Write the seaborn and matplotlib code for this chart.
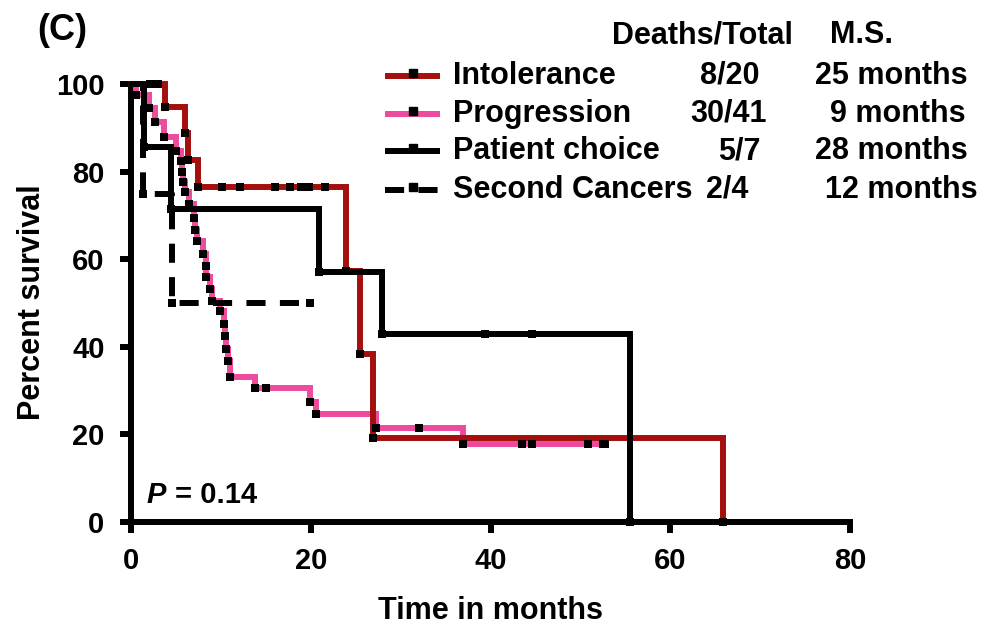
import numpy as np
import pandas as pd
import matplotlib
matplotlib.use("Agg")
import matplotlib.pyplot as plt
from matplotlib.lines import Line2D
import seaborn as sns

# ---------------- data ----------------
groups = ["Intolerance", "Progression", "Patient choice", "Second Cancers"]
deaths_total = ["8/20", "30/41", "5/7", "2/4"]
median_surv = ["25 months", "9 months", "28 months", "12 months"]

intol_event_t = [3.8, 6.0, 6.3, 7.4, 23.9, 25.5, 26.9, 65.9]
intol_event_s = [94.7, 88.7, 82.6, 76.5, 57.4, 38.3, 19.1, 0.0]
intol_cens_t = [2.1, 3.0, 10.1, 12.1, 16.0, 17.7, 18.9, 19.8, 21.6]

prog_event_t = [0.6, 2.0, 2.7, 3.7, 5.0, 5.6, 5.7, 5.8, 6.0, 6.5, 7.0, 7.1, 7.3,
                8.0, 8.3, 8.4, 8.8, 9.0, 9.9, 10.3, 10.5, 10.6, 10.8, 11.0,
                13.8, 19.9, 20.6, 27.3, 36.9]
prog_event_s = [97.5, 94.5, 91.3, 88.0, 84.8, 82.4, 79.9, 77.6, 75.3, 72.6, 69.4,
                66.6, 64.2, 61.1, 58.5, 56.0, 53.3, 50.5, 48.1, 45.1, 42.5, 39.6,
                36.8, 33.2, 30.5, 27.3, 24.7, 21.4, 17.8]
prog_cens_t = [15.0, 32.1, 43.5, 44.6, 50.8, 52.5, 52.7]

choice_event_t = [1.5, 4.5, 20.9, 27.9, 55.5]
choice_event_s = [85.7, 71.4, 57.1, 42.9, 0.0]
choice_cens_t = [39.4, 44.6]

second_event_t = [1.3, 4.6]
second_event_s = [75.0, 50.0]
second_cens_t = [19.9]

xticks = [0, 20, 40, 60, 80]
yticks = [0, 20, 40, 60, 80, 100]
p_label = "0.14"

# ---------------- style ----------------
sns.set_style("ticks")
plt.rcParams["font.family"] = ["Liberation Sans", "DejaVu Sans"]
plt.rcParams["font.weight"] = "bold"
for k in ["text.color", "axes.labelcolor", "xtick.color", "ytick.color",
          "axes.edgecolor", "xtick.labelcolor", "ytick.labelcolor"]:
    plt.rcParams[k] = "black"

colors = {"Intolerance": "#A5100E", "Progression": "#EE4B9E",
          "Patient choice": "#000000", "Second Cancers": "#000000"}
styles = {"Intolerance": "-", "Progression": "-",
          "Patient choice": "-", "Second Cancers": (0, (3.2, 2.4))}

W, H = 981, 628
fig = plt.figure(figsize=(W / 100, H / 100), dpi=100)
x0, x1, y0, y1 = 131, 850, 522, 84
ax = fig.add_axes([x0 / W, 1 - y0 / H, (x1 - x0) / W, (y0 - y1) / H])

def fx(px):
    return px / W

def fy(py):
    return 1 - py / H

def curve(ev_t, ev_s, cens_t):
    t = [0.0] + list(ev_t)
    s = [100.0] + list(ev_s)
    end = max([t[-1]] + list(cens_t))
    if end > t[-1]:
        t.append(end)
        s.append(s[-1])
    steps = pd.DataFrame({"t": t, "s": s})
    # survival at censor times from the step function
    cs = []
    for c in cens_t:
        idx = np.searchsorted(np.array(t), c, side="right") - 1
        cs.append(s[idx])
    marks = pd.DataFrame({"t": list(ev_t) + list(cens_t),
                          "s": list(ev_s) + cs})
    return steps, marks

data = {
    "Intolerance": curve(intol_event_t, intol_event_s, intol_cens_t),
    "Progression": curve(prog_event_t, prog_event_s, prog_cens_t),
    "Patient choice": curve(choice_event_t, choice_event_s, choice_cens_t),
    "Second Cancers": curve(second_event_t, second_event_s, second_cens_t),
}

LW = 4.3
order = ["Progression", "Intolerance", "Second Cancers", "Patient choice"]
for g in order:
    steps, marks = data[g]
    sns.lineplot(data=steps, x="t", y="s", ax=ax, color=colors[g],
                 linewidth=LW, linestyle=styles[g], drawstyle="steps-post",
                 sort=False, estimator=None, clip_on=False, zorder=3,
                 solid_joinstyle="miter", dash_capstyle="butt")
for g in order:
    steps, marks = data[g]
    sns.scatterplot(data=marks, x="t", y="s", ax=ax, color="black",
                    marker="s", s=30, linewidth=0, clip_on=False, zorder=4)

ax.set_xlim(0, 80)
ax.set_ylim(0, 100)
ax.set_xticks(xticks)
ax.set_yticks(yticks)
ax.set_xticklabels([str(v) for v in xticks])
ax.set_yticklabels([str(v) for v in yticks])
sns.despine(ax=ax)
for sp in ["left", "bottom"]:
    ax.spines[sp].set_linewidth(4.3)
    ax.spines[sp].set_color("black")
    ax.spines[sp].set_capstyle("projecting")
ax.tick_params(axis="both", length=8, width=4.3, labelsize=21, color="black",
               labelcolor="black")
ax.tick_params(axis="x", pad=10)
ax.tick_params(axis="y", pad=11)
for lab in ax.get_xticklabels() + ax.get_yticklabels():
    lab.set_fontweight("bold")

ax.set_xlabel("Time in months", fontsize=22, fontweight="bold", color="black")
ax.set_ylabel("Percent survival", fontsize=22, fontweight="bold", color="black")
ax.xaxis.label.set_va("center")
ax.xaxis.set_label_coords((491 - x0) / (x1 - x0), (y0 - 611) / (y0 - y1))
ax.yaxis.label.set_va("center")
ax.yaxis.set_label_coords((32 - x0) / (x1 - x0), (y0 - 302) / (y0 - y1))

# panel label
fig.text(fx(37), fy(30), "(C)", fontsize=26, fontweight="bold", va="center",
         ha="left", color="black")

# P value
fig.text(fx(146), fy(495), "P", fontsize=21, fontweight="bold", style="italic",
         va="center", ha="left", color="black")
fig.text(fx(175), fy(495), "= " + p_label, fontsize=21, fontweight="bold",
         va="center", ha="left", color="black")

# legend table
fig.text(fx(612), fy(35), "Deaths/Total", fontsize=22, fontweight="bold",
         va="center", color="black")
fig.text(fx(830), fy(35), "M.S.", fontsize=22, fontweight="bold", va="center",
         color="black")
row_y = [76, 114, 151, 190]
frac_x = [700, 690, 718, 706]
ms_x = [815, 830, 815, 825]
for g, dt, ms, ry, fxp, mxp in zip(groups, deaths_total, median_surv, row_y, frac_x, ms_x):
    fig.add_artist(Line2D([fx(385), fx(440)], [fy(ry), fy(ry)], color=colors[g],
                          linewidth=LW, linestyle=styles[g], transform=fig.transFigure,
                          solid_capstyle="butt", dash_capstyle="butt"))
    fig.add_artist(Line2D([fx(412.5)], [fy(ry - 3)], marker="s", markersize=5.5,
                          color="black", linewidth=0, transform=fig.transFigure))
    fig.text(fx(453), fy(ry), g, fontsize=22, fontweight="bold", va="center",
             color="black")
    fig.text(fx(fxp), fy(ry), dt, fontsize=22, fontweight="bold", va="center",
             color="black")
    fig.text(fx(mxp), fy(ry), ms, fontsize=22, fontweight="bold", va="center",
             color="black")

fig.savefig("out.png", dpi=100)
